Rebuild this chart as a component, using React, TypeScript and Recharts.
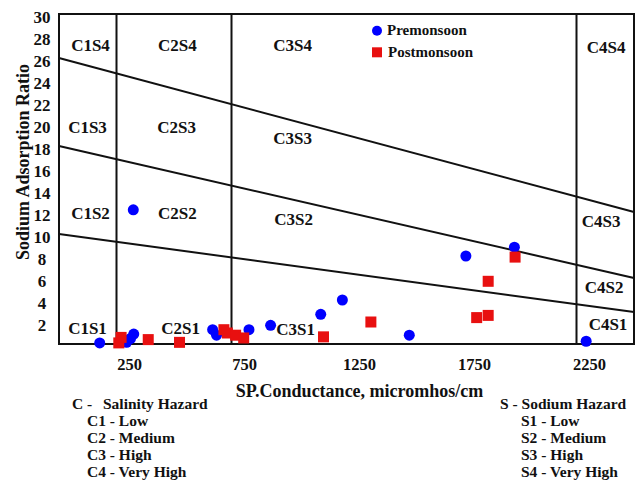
import React from 'react';
import { ScatterChart, Scatter, XAxis, YAxis, ReferenceLine, ReferenceArea, Legend } from 'recharts';

const FONT = '"Liberation Serif", "Times New Roman", serif';
const INK = '#111111';

// Premonsoon samples (EC micromhos/cm, SAR)
const preEC = [177, 294, 311, 325, 323, 668, 685, 826, 920, 1138, 1232, 1523, 1769, 1980, 2292];
const preSAR = [0.1, 0.15, 0.5, 0.9, 12.2, 1.3, 0.8, 1.3, 1.7, 2.7, 4.0, 0.8, 8.0, 8.8, 0.25];
// Postmonsoon samples
const postEC = [260, 270, 388, 524, 717, 732, 768, 803, 1150, 1356, 1816, 1866, 1866, 1983];
const postSAR = [0.1, 0.6, 0.4, 0.15, 1.3, 1.0, 0.8, 0.55, 0.65, 2.0, 2.4, 2.6, 5.7, 7.9];

const seriesNames = ['Premonsoon', 'Postmonsoon'];
const seriesColors = ['#0000ff', '#e81010'];

const xTicks = [250, 750, 1250, 1750, 2250];
const yTicks = [2, 4, 6, 8, 10, 12, 14, 16, 18, 20, 22, 24, 26, 28, 30];
const xDomain = [0, 2500];
const yDomain = [0, 30];

// Salinity class boundaries (vertical lines)
const salinityBounds = [250, 750, 2250];
// Sodium class boundaries: SAR at EC = 0 and EC = 2500
const sodiumLineStart = [26, 18, 10];
const sodiumLineEnd = [12, 6, 2.9];

// Class region labels
const regionNames = ['C1S4', 'C2S4', 'C3S4', 'C4S4', 'C1S3', 'C2S3', 'C3S3', 'C1S2', 'C2S2', 'C3S2', 'C4S3', 'C4S2', 'C4S1', 'C1S1', 'C2S1', 'C3S1'];
const regionEC = [137, 515, 1016, 2379, 124, 511, 1016, 137, 515, 1020, 2357, 2370, 2387, 124, 529, 1029];
const regionSAR = [27.2, 27.2, 27.2, 27.0, 19.7, 19.7, 18.7, 11.9, 11.9, 11.4, 11.2, 5.2, 1.8, 1.5, 1.5, 1.4];

const xTitle = 'SP.Conductance, micromhos/cm';
const yTitle = 'Sodium Adsorption Ratio';
const salinityHead = ['C -', 'Salinity Hazard'];
const salinityClasses = ['C1 - Low', 'C2 - Medium', 'C3 - High', 'C4 - Very High'];
const sodiumHead = 'S - Sodium Hazard';
const sodiumClasses = ['S1 - Low', 'S2 - Medium', 'S3 - High', 'S4 - Very High'];

const preData = preEC.map((x, i) => ({ x, y: preSAR[i] }));
const postData = postEC.map((x, i) => ({ x, y: postSAR[i] }));
const regionData = regionNames.map((name, i) => ({ x: regionEC[i], y: regionSAR[i], name }));

const Circle = (p: any) => <circle cx={p.cx} cy={p.cy} r={5.5} fill={seriesColors[0]} />;
const Square = (p: any) => <rect x={p.cx - 5.5} y={p.cy - 5.5} width={11} height={11} fill={seriesColors[1]} />;
const RegionText = (p: any) => (
  <text x={p.cx} y={p.cy} dy={6} textAnchor="middle" fontFamily={FONT} fontWeight="bold" fontSize={17} fill={INK}>
    {p.payload.name}
  </text>
);

const XTick = (p: any) => (
  <text x={p.x} y={p.y} dx={13} dy={26} textAnchor="middle" fontFamily={FONT} fontWeight="bold" fontSize={16.5} fill={INK}>
    {p.payload.value}
  </text>
);
const YTick = (p: any) => (
  <text x={p.x} y={p.y} dx={-17} dy={9} textAnchor="middle" fontFamily={FONT} fontWeight="bold" fontSize={17} fill={INK}>
    {p.payload.value}
  </text>
);

const renderLegend = () => (
  <svg width={160} height={48} style={{ display: 'block' }}>
    <circle cx={6} cy={11.7} r={5} fill={seriesColors[0]} />
    <text x={16} y={16} fontFamily={FONT} fontWeight="bold" fontSize={15} fill={INK}>{seriesNames[0]}</text>
    <rect x={1} y={28.3} width={10} height={10} fill={seriesColors[1]} />
    <text x={17} y={37.7} fontFamily={FONT} fontWeight="bold" fontSize={15} fill={INK}>{seriesNames[1]}</text>
  </svg>
);

export default function App() {
  const txt = { fontFamily: FONT, fontWeight: 'bold' as const, fill: INK };
  return (
    <div style={{ position: 'absolute', left: 0, top: 0, width: 640, height: 483, background: '#fff' }}>
      <ScatterChart width={640} height={483} margin={{ top: 14, right: 6, bottom: 109, left: 9 }}>
        <XAxis
          type="number"
          dataKey="x"
          domain={xDomain}
          ticks={xTicks}
          axisLine={false}
          tickLine={false}
          tickSize={0}
          tickMargin={0}
          height={30}
          tick={<XTick />}
          interval={0}
        />
        <YAxis
          type="number"
          dataKey="y"
          domain={yDomain}
          ticks={yTicks}
          axisLine={false}
          tickLine={false}
          tickSize={0}
          tickMargin={0}
          width={50}
          tick={<YTick />}
          interval={0}
        />
        <ReferenceArea x1={xDomain[0]} x2={xDomain[1]} y1={yDomain[0]} y2={yDomain[1]} fill="none" fillOpacity={0} stroke={INK} strokeWidth={2} />
        {salinityBounds.map((v) => (
          <ReferenceLine key={'v' + v} x={v} stroke={INK} strokeWidth={2} />
        ))}
        {sodiumLineStart.map((s, i) => (
          <ReferenceLine
            key={'s' + i}
            segment={[{ x: xDomain[0], y: s }, { x: xDomain[1], y: sodiumLineEnd[i] }]}
            stroke={INK}
            strokeWidth={2}
          />
        ))}
        <Scatter data={regionData} shape={RegionText} isAnimationActive={false} legendType="none" />
        <Scatter name={seriesNames[0]} data={preData} shape={Circle} isAnimationActive={false} />
        <Scatter name={seriesNames[1]} data={postData} shape={Square} isAnimationActive={false} />
        <Legend
          layout="vertical"
          align="center"
          verticalAlign="middle"
          wrapperStyle={{ position: 'absolute', left: 371, top: 19, width: 160, height: 48 }}
          content={renderLegend}
        />
      </ScatterChart>
      <svg width={640} height={483} style={{ position: 'absolute', left: 0, top: 0, pointerEvents: 'none' }}>
        <text x={29} y={162} transform="rotate(-90 29 162)" textAnchor="middle" fontSize={18} {...txt}>{yTitle}</text>
        <text x={359.5} y={397} textAnchor="middle" fontSize={18} {...txt}>{xTitle}</text>
        <text x={72} y={409} fontSize={15.5} {...txt}>{salinityHead[0]}</text>
        <text x={103} y={409} fontSize={15.5} {...txt}>{salinityHead[1]}</text>
        {salinityClasses.map((c, i) => (
          <text key={c} x={87} y={426 + i * 17} fontSize={15.5} {...txt}>{c}</text>
        ))}
        <text x={500} y={409} fontSize={15.5} {...txt}>{sodiumHead}</text>
        {sodiumClasses.map((c, i) => (
          <text key={c} x={521} y={426 + i * 17} fontSize={15.5} {...txt}>{c}</text>
        ))}
      </svg>
    </div>
  );
}
